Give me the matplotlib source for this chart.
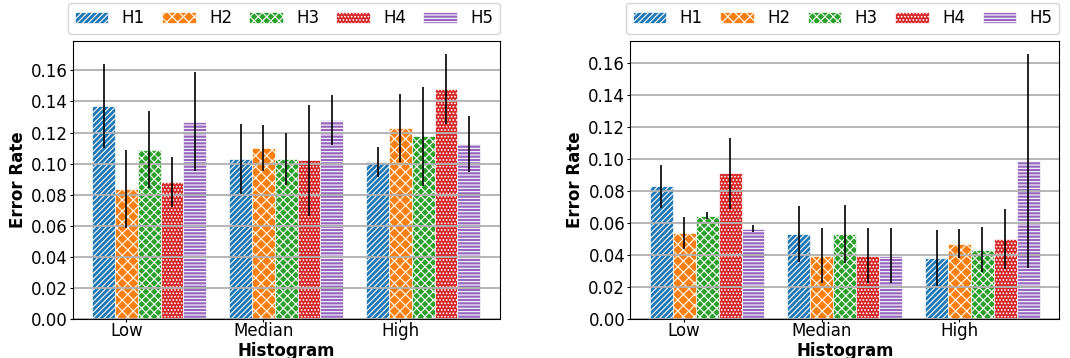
import numpy as np
import matplotlib
matplotlib.use("Agg")
import matplotlib.pyplot as plt
from matplotlib.ticker import MultipleLocator

groups = ["Low", "Median", "High"]
series = ["H1", "H2", "H3", "H4", "H5"]

# left panel: mean error rate and error bar half-length, one row per series
left_vals = [
    [0.137, 0.103, 0.101],
    [0.0835, 0.110, 0.123],
    [0.109, 0.103, 0.1175],
    [0.088, 0.102, 0.148],
    [0.127, 0.128, 0.1125],
]
left_err = [
    [0.027, 0.0225, 0.0095],
    [0.025, 0.015, 0.022],
    [0.025, 0.017, 0.032],
    [0.016, 0.036, 0.0225],
    [0.032, 0.016, 0.018],
]

# right panel
right_vals = [
    [0.083, 0.0533, 0.038],
    [0.054, 0.0397, 0.047],
    [0.0646, 0.0533, 0.0433],
    [0.091, 0.0397, 0.050],
    [0.0565, 0.0397, 0.0987],
]
right_err = [
    [0.0135, 0.0175, 0.0175],
    [0.010, 0.0175, 0.009],
    [0.002, 0.018, 0.014],
    [0.0225, 0.0175, 0.0185],
    [0.002, 0.0175, 0.067],
]

colors = ["#1f77b4", "#ff7f0e", "#2ca02c", "#d62728", "#9467bd"]
hatches = ["//////", "xxx", "xxxx", ".....", "-----"]

plt.rcParams["hatch.linewidth"] = 0.8

fig = plt.figure(figsize=(10.7, 3.58), dpi=100)
ax1 = fig.add_axes([0.068, 0.109, 0.399, 0.777])
ax2 = fig.add_axes([0.589, 0.109, 0.401, 0.777])

width = 1 / 6
x = np.arange(len(groups))


def draw(ax, vals, errs):
    for i, name in enumerate(series):
        ax.bar(
            x + i * width, vals[i], width,
            yerr=errs[i],
            color=colors[i],
            edgecolor="white",
            linewidth=0.5,
            hatch=hatches[i],
            label=name,
            error_kw=dict(elinewidth=1.2, ecolor="black", capsize=0),
        )
    ax.set_xticks(x + width)
    ax.set_xticklabels(groups)
    ax.set_ylim(bottom=0)
    ax.yaxis.set_major_locator(MultipleLocator(0.02))
    ax.tick_params(axis="x", labelsize=12, length=2, pad=0.5)
    ax.tick_params(axis="y", labelsize=12, length=2, pad=1.6)
    ax.yaxis.grid(True, color="#b0b0b0", linewidth=1.3)
    ax.set_ylabel("Error Rate", fontsize=12, fontweight="bold", labelpad=3)
    ax.set_xlabel("Histogram", fontsize=12, fontweight="bold", labelpad=1)
    ax.legend(
        bbox_to_anchor=(-0.01, 1.025, 1.01, 0.1),
        loc="lower left",
        mode="expand",
        ncol=5,
        fontsize=12,
        borderaxespad=0,
    )


draw(ax1, left_vals, left_err)
draw(ax2, right_vals, right_err)

plt.savefig("out.png", dpi=100)
